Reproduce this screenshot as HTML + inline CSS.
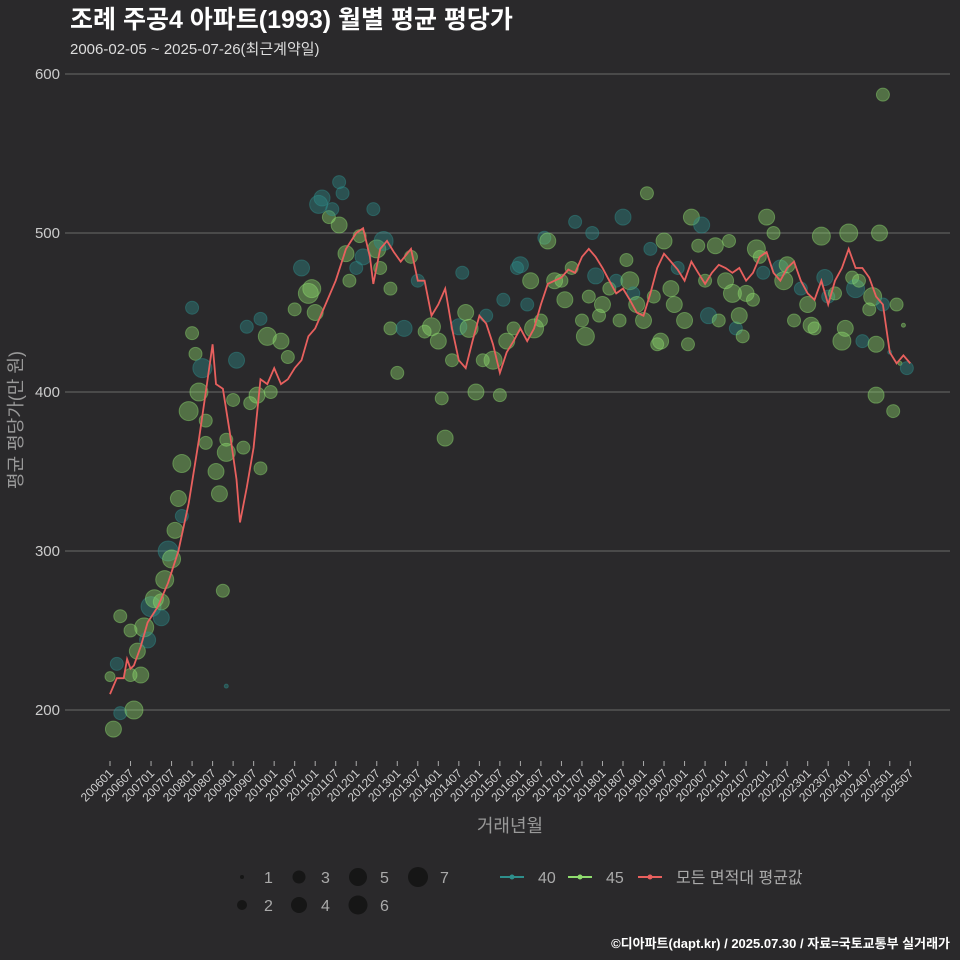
<!DOCTYPE html>
<html><head><meta charset="utf-8"><style>
html,body{margin:0;padding:0;background:#2a292b;overflow:hidden;width:960px;height:960px;}
svg{display:block;}
svg text{font-family:"Liberation Sans","Noto Sans CJK KR",sans-serif;}
</style></head><body>
<svg id="chart" width="960" height="960" xmlns="http://www.w3.org/2000/svg">
<rect width="960" height="960" fill="#2a292b"/>
<text x="70" y="28" fill="#ffffff" font-size="25" font-weight="bold">조례 주공4 아파트(1993) 월별 평균 평당가</text>
<text x="70" y="54" fill="#dddddd" font-size="15">2006-02-05 ~ 2025-07-26(최근계약일)</text>
<g id="grid"></g><g id="yaxis"></g><g id="xaxis"></g><g id="points"></g><g id="line"></g>
<text transform="translate(22,420) rotate(-90)" text-anchor="middle" fill="#999" font-size="18">평균 평당가(만 원)</text>
<text x="510" y="832" text-anchor="middle" fill="#999" font-size="18">거래년월</text>
<g id="legend"></g>
<text x="950" y="948" text-anchor="end" fill="#ffffff" font-size="13" font-weight="bold">©디아파트(dapt.kr) / 2025.07.30 / 자료=국토교통부 실거래가</text>
</svg>
<script>
const yTicks=[200,300,400,500,600];
const lineMonths=[200601,200603,200605,200606,200607,200608,200610,200612,200703,200706,200709,200712,200803,200805,200807,200808,200810,200812,200902,200903,200905,200907,200909,200911,201001,201003,201005,201007,201009,201011,201101,201104,201107,201110,201201,201203,201205,201206,201208,201210,201212,201302,201305,201307,201309,201311,201401,201403,201405,201407,201409,201411,201501,201503,201505,201507,201509,201511,201601,201603,201605,201607,201609,201611,201701,201703,201705,201707,201709,201711,201801,201803,201805,201807,201809,201811,201901,201903,201905,201907,201909,201911,202001,202003,202005,202007,202009,202011,202101,202103,202105,202107,202109,202111,202201,202203,202205,202207,202209,202211,202301,202303,202305,202307,202309,202311,202401,202403,202405,202407,202409,202411,202501,202503,202505,202507];
const lineValues=[210,220,220,232,226,228,240,255,265,280,300,330,370,400,430,405,402,375,345,318,340,365,408,405,415,405,408,415,420,435,440,455,470,490,500,503,485,468,490,495,488,482,490,470,470,448,455,465,440,420,415,432,448,443,430,412,425,432,440,432,440,455,468,470,472,477,475,485,490,485,478,470,462,465,458,450,448,462,478,487,482,477,470,482,475,468,475,480,478,475,478,470,475,485,488,475,470,478,482,470,462,458,470,455,470,478,490,478,478,472,460,455,425,418,423,418];
const ptMonths=[200601,200602,200603,200604,200604,200607,200607,200608,200609,200610,200611,200612,200701,200702,200704,200704,200705,200706,200707,200708,200709,200710,200710,200712,200801,200801,200802,200803,200804,200805,200805,200808,200809,200810,200811,200811,200811,200901,200902,200904,200905,200906,200908,200909,200909,200911,200912,201003,201005,201007,201009,201011,201012,201101,201102,201103,201105,201106,201108,201108,201109,201110,201111,201201,201202,201203,201206,201207,201208,201209,201211,201211,201301,201303,201305,201307,201309,201311,201401,201402,201403,201405,201407,201408,201409,201410,201412,201502,201503,201505,201507,201508,201509,201511,201512,201601,201603,201604,201605,201607,201608,201609,201611,201701,201702,201704,201705,201707,201708,201709,201710,201711,201712,201801,201803,201805,201806,201807,201808,201809,201810,201811,201901,201902,201903,201904,201905,201906,201907,201909,201910,201911,202001,202002,202003,202005,202006,202007,202008,202010,202011,202101,202102,202103,202104,202105,202106,202107,202109,202110,202111,202112,202201,202203,202205,202206,202207,202209,202211,202301,202302,202303,202305,202306,202307,202309,202311,202312,202401,202402,202403,202404,202405,202407,202408,202409,202410,202411,202411,202501,202502,202503,202504,202505,202409,202506];
const ptValues=[221,188,229,198,259,250,222,200,237,222,252,244,265,270,268,258,282,300,295,313,333,322,355,388,453,437,424,400,415,368,382,350,336,275,215,370,362,395,420,365,441,393,398,352,446,435,400,432,422,452,478,462,465,450,518,522,510,515,532,505,525,487,470,478,498,485,515,490,478,495,465,440,412,440,485,470,438,441,432,396,371,420,441,475,450,440,400,420,448,420,398,458,432,440,478,480,455,470,440,445,497,495,470,470,458,478,507,445,435,460,500,473,448,455,465,470,445,510,483,470,462,455,445,525,490,460,430,432,495,465,455,478,445,430,510,492,505,470,448,492,445,470,495,462,440,448,435,462,458,490,485,475,510,500,478,470,480,445,465,455,442,440,498,472,460,462,432,440,500,472,465,470,432,452,460,430,500,587,455,425,388,455,418,442,398,415];
const ptCounts=[2,4,3,3,3,3,3,5,4,4,6,4,7,5,4,4,5,7,5,4,4,3,5,6,3,3,3,5,6,3,3,4,4,3,1,3,5,3,4,3,3,3,4,3,3,5,3,4,3,3,4,7,5,4,5,4,3,3,3,4,3,4,3,3,3,4,3,5,3,6,3,3,3,4,3,3,3,5,4,3,4,3,4,3,4,5,4,3,3,5,3,3,4,3,3,4,3,4,6,3,3,4,4,3,4,3,3,3,5,3,3,4,3,4,3,3,3,4,3,5,3,4,4,3,3,3,3,4,4,4,4,3,4,3,4,3,4,3,4,4,3,4,3,5,3,4,3,4,3,5,3,3,4,3,4,5,4,3,3,4,4,3,5,4,3,3,5,4,5,3,5,3,3,3,5,4,4,3,3,1,3,3,1,1,4,3,1,3];
const ptTypes=[1,1,0,0,1,1,1,1,1,1,1,0,0,1,1,0,1,0,1,1,1,0,1,1,0,1,1,1,0,1,1,1,1,1,0,1,1,1,0,1,0,1,1,1,0,1,1,1,1,1,0,1,1,1,0,0,1,0,0,1,0,1,1,0,1,0,0,1,1,0,1,1,1,0,1,0,1,1,1,1,1,1,0,0,1,1,1,1,0,1,1,0,1,1,0,0,0,1,1,1,0,1,1,1,1,1,0,1,1,1,0,0,1,1,1,0,1,0,1,1,0,1,1,1,0,1,1,1,1,1,1,0,1,1,1,1,0,1,0,1,1,1,1,1,0,1,1,1,1,1,1,0,1,1,0,1,1,1,0,1,1,1,1,0,0,1,1,1,1,1,0,1,0,1,1,1,1,1,0,0,1,1,1,1,1,0,1,1];
const xTickLabels=[];for(let y=2006;y<=2025;y++){xTickLabels.push(y+'01');xTickLabels.push(y+'07');}
const sizeR=[0,2,5,6.5,8,9,9.5,10];
const typeColor=['#2e8f8c','#8fdc6e'];
const NS='http://www.w3.org/2000/svg';
function mIdx(ym){ym=+ym;return (Math.floor(ym/100)-2006)*12+(ym%100-1);}
function xS(ym){return 110+mIdx(ym)*3.42;}
function yS(v){return 710-(v-200)*1.59;}
function mk(tag,attrs,parent){const e=document.createElementNS(NS,tag);for(const k in attrs)e.setAttribute(k,attrs[k]);parent.appendChild(e);return e;}
const grid=document.getElementById('grid'),yax=document.getElementById('yaxis'),xax=document.getElementById('xaxis');
yTicks.forEach(t=>{
 const l=mk('line',{x1:65,x2:950,y1:yS(t),y2:yS(t),stroke:'#6a6a6a','stroke-width':1},grid);
 
 
 const tx=mk('text',{x:60,y:yS(t)+5,'text-anchor':'end',fill:'#cccccc','font-size':15},yax);
 tx.textContent=t;
 
 
});
xTickLabels.forEach(lb=>{
 if(mIdx(lb)>mIdx(202507))return;
 const x=xS(lb);
 const tk=mk('line',{x1:x,x2:x,y1:761,y2:766,stroke:'#aaa'},xax);
 
 
 const tx=mk('text',{transform:`translate(${x+4},${774}) rotate(-45)`,'text-anchor':'end',fill:'#d0d0d0','font-size':12},xax);
 tx.textContent=lb;
 
 
});
const pg=document.getElementById('points');
ptMonths.forEach((m,i)=>{
 const c=mk('circle',{cx:xS(m),cy:yS(ptValues[i]),r:sizeR[ptCounts[i]],fill:typeColor[ptTypes[i]],'fill-opacity':0.4,stroke:typeColor[ptTypes[i]],'stroke-opacity':0.45},pg);
 
 
});
const d=lineMonths.map((m,i)=>(i?'L':'M')+xS(m).toFixed(1)+','+yS(lineValues[i]).toFixed(1)).join('');
const ln=mk('path',{d:d,fill:'none',stroke:'#e8605e','stroke-width':1.8},document.getElementById('line'));


const lg=document.getElementById('legend');
const sizeLeg=[[1,242,877],[2,242,905],[3,299,877],[4,299,905],[5,358,877],[6,358,905],[7,418,877]];
sizeLeg.forEach(s=>{
 const c=mk('circle',{cx:s[1],cy:s[2],r:sizeR[s[0]],fill:'#161616'},lg);
 
 
 const t=mk('text',{x:s[1]+22,y:s[2]+6,fill:'#aaa','font-size':16},lg);
 t.textContent=s[0];
 
 
});
[['40','#2e8f8c',512],['45','#8fdc6e',580],['모든 면적대 평균값','#e8605e',650]].forEach(e=>{
 const g=mk('g',{},lg);
 
 
 mk('line',{x1:e[2]-12,x2:e[2]+12,y1:877,y2:877,stroke:e[1],'stroke-width':2},g);
 mk('circle',{cx:e[2],cy:877,r:2.5,fill:e[1]},g);
 const t=mk('text',{x:e[2]+26,y:883,fill:'#aaa','font-size':16},g);
 t.textContent=e[0];
});
</script>
</body></html>
